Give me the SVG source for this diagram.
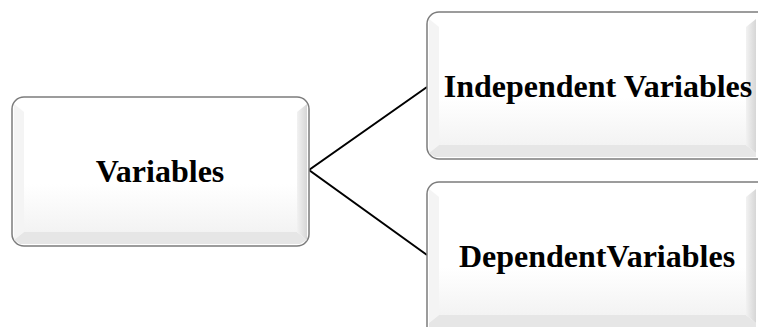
<svg xmlns="http://www.w3.org/2000/svg" width="758" height="327" viewBox="0 0 758 327">
<defs>
<style>
.outer{fill:#ffffff;stroke:#7c7c7c;stroke-width:1.5}
.bb{fill:#e6e6e6}
.br{fill:url(#gr)}
.bl{fill:#f4f4f4}
.face{fill:url(#gf)}
.lbl{font-family:"Liberation Serif","Times New Roman",serif;font-weight:bold;font-size:32px;fill:#000;text-anchor:middle}
.conn{stroke:#000;stroke-width:2;fill:none}
</style>
<linearGradient id="gf" x1="0" y1="0" x2="0" y2="1">
<stop offset="0" stop-color="#ffffff"/>
<stop offset="0.6" stop-color="#ffffff"/>
<stop offset="1" stop-color="#f3f3f3"/>
</linearGradient>
<linearGradient id="gr" x1="0" y1="0" x2="1" y2="0">
<stop offset="0" stop-color="#f2f2f2"/>
<stop offset="1" stop-color="#d6d6d6"/>
</linearGradient>
</defs>
<g id="connectors">
<polyline class="conn" points="427,87 309,170 427,255"/>
</g>
<g id="node-variables">
<rect class="outer" x="12" y="97" width="297" height="149" rx="12"/>
<polygon class="bl" points="14,104 24,112 24,232 14,240"/>
<polygon class="bb" points="14,240 24,232 297,232 307,240 300,244 20,244"/>
<polygon class="br" points="297,112 307,104 307,240 297,232"/>
<rect class="face" x="24" y="112" width="273" height="120"/>
<text class="lbl" x="160" y="182">Variables</text>
</g>
<g id="node-independent">
<rect class="outer" x="427" y="12" width="345" height="147" rx="12"/>
<polygon class="bl" points="429,19 439,27 439,145 429,153"/>
<polygon class="bb" points="429,153 439,145 746,145 756,153 756,157 435,157"/>
<polygon class="br" points="746,27 756,19 756,153 746,145"/>
<rect class="face" x="439" y="27" width="307" height="118"/>
<text class="lbl" x="598" y="97">Independent Variables</text>
</g>
<g id="node-dependent">
<rect class="outer" x="427" y="182" width="345" height="160" rx="12"/>
<polygon class="bl" points="429,189 439,197 439,315 429,323"/>
<polygon class="bb" points="429,323 439,315 746,315 756,323 756,327 429,327"/>
<polygon class="br" points="746,197 756,189 756,323 746,315"/>
<rect class="face" x="439" y="197" width="307" height="118"/>
<text class="lbl" x="597" y="267">DependentVariables</text>
</g>
</svg>
